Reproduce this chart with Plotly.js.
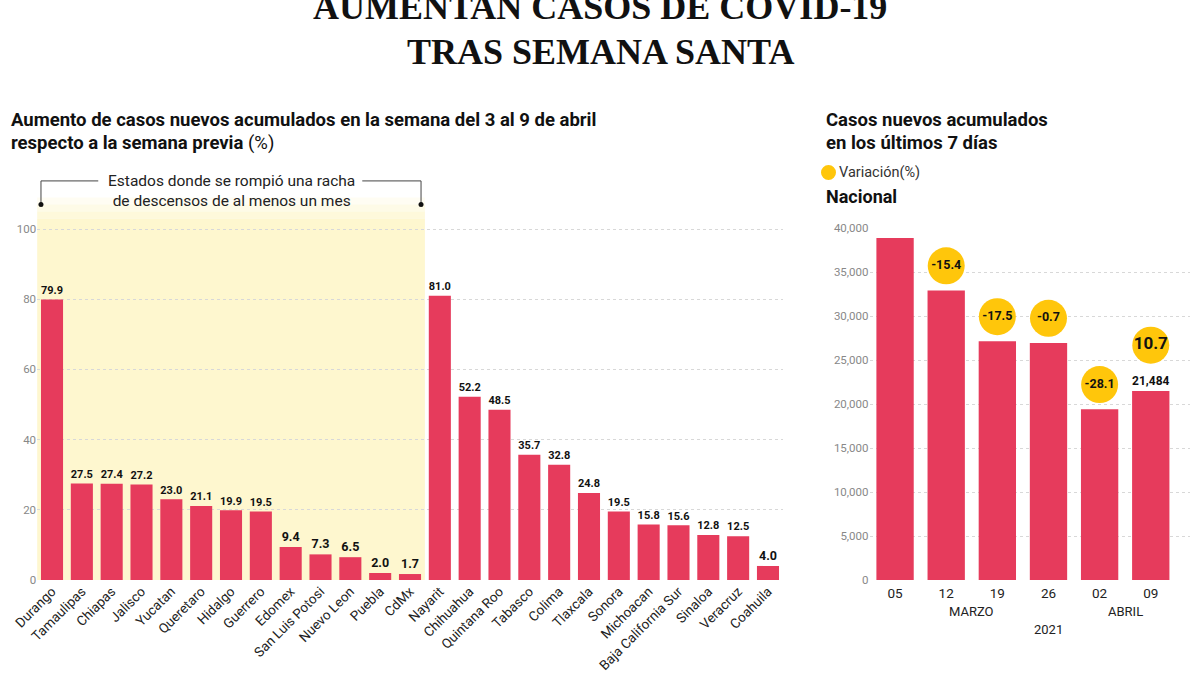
<!DOCTYPE html>
<html><head><meta charset="utf-8">
<script src="https://cdn.plot.ly/plotly-3.0.1.min.js"></script>
<style>html,body{margin:0;padding:0;background:#fff}#chart{width:1200px;height:675px}</style>
</head><body><div id="chart"></div>
<script>
// ---------- DATA ----------
const estados = ['Durango','Tamaulipas','Chiapas','Jalisco','Yucatan','Queretaro','Hidalgo','Guerrero','Edomex','San Luis Potosi','Nuevo Leon','Puebla','CdMx','Nayarit','Chihuahua','Quintana Roo','Tabasco','Colima','Tlaxcala','Sonora','Michoacan','Baja California Sur','Sinaloa','Veracruz','Coahuila'];
const aumento = [79.9,27.5,27.4,27.2,23.0,21.1,19.9,19.5,9.4,7.3,6.5,2.0,1.7,81.0,52.2,48.5,35.7,32.8,24.8,19.5,15.8,15.6,12.8,12.5,4.0];
const estadosRachaRota = ['Durango','Tamaulipas','Chiapas','Jalisco','Yucatan','Queretaro','Hidalgo','Guerrero','Edomex','San Luis Potosi','Nuevo Leon','Puebla','CdMx'];
const yTicksIzq = [0,20,40,60,80,100];

const semanas = ['05','12','19','26','02','09'];
const casosNacional = [38850,32900,27120,26940,19408,21484];
const variacion = [null,-15.4,-17.5,-0.7,-28.1,10.7];
const meses = ['MARZO','ABRIL'];
const mesesPos = [1.5,4.5];
const anio = '2021';
const yTicksDer = [0,5000,10000,15000,20000,25000,30000,35000,40000];

// ---------- STYLE ----------
const ROJO = '#E63B5C';
const AMARILLO = '#FFC60B';
const FONDO = '#FEF7CF';
const FONT = 'Roboto, "Open Sans", "DejaVu Sans", sans-serif';
const px2py = p => 1 - p/675;

const iFirst = estados.indexOf(estadosRachaRota[0]);
const iLast = estados.indexOf(estadosRachaRota[estadosRachaRota.length-1]);
const bx0 = iFirst - 0.37, bx1 = iLast + 0.37;
const bTop = 113.7, bBot = 107.0;

const traces = [
  {type:'bar', x:estados, y:aumento, xaxis:'x', yaxis:'y',
   marker:{color:ROJO}, texttemplate:'%{y:.1f}', textposition:'outside',
   textfont:{family:FONT, size:aumento.map(v=> v>75 ? 15 : 12.5), color:'#111', weight:'bold'},
   cliponaxis:false, hoverinfo:'skip'},
  {type:'bar', x:semanas, y:casosNacional, xaxis:'x2', yaxis:'y2', width:0.73,
   marker:{color:ROJO}, cliponaxis:false, hoverinfo:'skip',
   text:casosNacional.map((v,i)=> i===casosNacional.length-1 ? v.toLocaleString('en-US') : ''),
   textposition:'outside', textfont:{family:FONT, size:19, color:'#111', weight:'bold'}},
  (function(){
    const xs=[], ys=[], ts=[], fs=[];
    variacion.forEach((v,i)=>{
      if(v===null) return;
      const last = i===casosNacional.length-1;
      xs.push(semanas[i]);
      ys.push(casosNacional[i] + (last ? 5200 : 2800));
      ts.push(v.toFixed(1));
      fs.push(last ? 17 : 12.5);
    });
    return {type:'scatter', mode:'markers+text', x:xs, y:ys, xaxis:'x2', yaxis:'y2',
      marker:{size:37, color:AMARILLO}, text:ts, textposition:'middle center',
      textfont:{family:FONT, size:fs, color:'#111', weight:'bold'}, cliponaxis:false, hoverinfo:'skip'};
  })()
];

const shapes = [];
const fade = [[0,103,1],[103,105,0.75],[105,107,0.5],[107,109,0.25]];
fade.forEach(f=>shapes.push({type:'rect', xref:'x', yref:'y', x0:iFirst-0.5, x1:iLast+0.5, y0:f[0], y1:f[1],
  fillcolor:FONDO, opacity:f[2], line:{width:0}, layer:'below'}));
const lineB = {color:'#444', width:1};
shapes.push({type:'line', xref:'x', yref:'y', x0:bx0, x1:iFirst+1.55, y0:bTop, y1:bTop, line:lineB});
shapes.push({type:'line', xref:'x', yref:'y', x0:iLast-1.6, x1:bx1, y0:bTop, y1:bTop, line:lineB});
shapes.push({type:'line', xref:'x', yref:'y', x0:bx0, x1:bx0, y0:bTop, y1:bBot, line:lineB});
shapes.push({type:'line', xref:'x', yref:'y', x0:bx1, x1:bx1, y0:bTop, y1:bBot, line:lineB});
[bx0,bx1].forEach(xx=>shapes.push({type:'circle', xref:'x', yref:'y', xsizemode:'pixel', ysizemode:'pixel',
  xanchor:xx, yanchor:bBot, x0:-2.5, x1:2.5, y0:-2.5, y1:2.5, fillcolor:'#111', line:{width:0}}));
shapes.push({type:'circle', xref:'paper', yref:'paper', x0:821/1200, x1:836/1200, y0:px2py(180), y1:px2py(165),
  fillcolor:AMARILLO, line:{width:0}});

const ann = [];
const A = (o)=>ann.push(Object.assign({showarrow:false, xref:'paper', yref:'paper'}, o));
const TFONT = {family:'"Liberation Serif", "DejaVu Serif", serif', size:36, color:'#111'};
A({text:'<b>AUMENTAN CASOS DE COVID-19</b>', x:0.5, y:px2py(7), xanchor:'center', yanchor:'middle', font:TFONT});
A({text:'<b>TRAS SEMANA SANTA</b>', x:0.5, y:px2py(52), xanchor:'center', yanchor:'middle', font:TFONT});
A({text:'<b>Aumento de casos nuevos acumulados en la semana del 3 al 9 de abril</b>', x:9/1200, y:px2py(120),
   xanchor:'left', yanchor:'middle', font:{family:FONT, size:18.5, color:'#111'}});
A({text:'<b>respecto a la semana previa</b> (%)', x:9/1200, y:px2py(143),
   xanchor:'left', yanchor:'middle', font:{family:FONT, size:18.5, color:'#111'}});
A({text:'Estados donde se rompió una racha<br>de descensos de al menos un mes', xref:'x', yref:'y',
   x:(iFirst+iLast)/2, y:110.9, xanchor:'center', yanchor:'middle', align:'center',
   font:{family:FONT, size:15.5, color:'#222'}});
A({text:'<b>Casos nuevos acumulados</b>', x:824/1200, y:px2py(120), xanchor:'left', yanchor:'middle',
   font:{family:FONT, size:18.5, color:'#111'}});
A({text:'<b>en los últimos 7 días</b>', x:824/1200, y:px2py(143), xanchor:'left', yanchor:'middle',
   font:{family:FONT, size:18.5, color:'#111'}});
A({text:'Variación(%)', x:837/1200, y:px2py(172), xanchor:'left', yanchor:'middle',
   font:{family:FONT, size:14.5, color:'#333'}});
A({text:'<b>Nacional</b>', x:824/1200, y:px2py(196), xanchor:'left', yanchor:'middle',
   font:{family:FONT, size:18, color:'#111'}});
meses.forEach((m,i)=>A({text:m, xref:'x2', x:mesesPos[i], y:px2py(611), xanchor:'center', yanchor:'middle',
   font:{family:FONT, size:13, color:'#222'}}));
A({text:anio, xref:'x2', x:(mesesPos[0]+mesesPos[1])/2, y:px2py(629), xanchor:'center', yanchor:'middle',
   font:{family:FONT, size:13, color:'#222'}});

const layout = {
  width:1200, height:675, margin:{l:0,r:0,t:0,b:0}, paper_bgcolor:'#fff', plot_bgcolor:'rgba(0,0,0,0)',
  showlegend:false, hovermode:false, bargap:0.26,
  font:{family:FONT},
  xaxis:{domain:[37.1/1200, 782.9/1200], anchor:'y', type:'category', tickangle:-45, showgrid:false,
    tickfont:{family:FONT, size:13.5, color:'#222'}, ticks:'', showline:false, automargin:false},
  yaxis:{domain:[px2py(580), px2py(580-116*3.51)], anchor:'x', range:[0,116], tickvals:yTicksIzq,
    showgrid:true, gridcolor:'#d8d8d8', griddash:'dot', zeroline:false,
    tickfont:{family:FONT, size:11.5, color:'#888'}, ticks:'', automargin:false},
  xaxis2:{domain:[869.5/1200, 1189.9/1200], anchor:'y2', type:'category', showgrid:false, ticks:'',
    ticklabelstandoff:3, tickfont:{family:FONT, size:13.5, color:'#222'}, automargin:false},
  yaxis2:{domain:[px2py(580), px2py(580-40100*0.0088)], anchor:'x2', range:[0,40100], tickvals:yTicksDer,
    tickformat:',', showgrid:true, gridcolor:'#d8d8d8', griddash:'dot', zeroline:false,
    tickfont:{family:FONT, size:11.5, color:'#888'}, ticks:'', automargin:false},
  shapes:shapes, annotations:ann
};
Plotly.newPlot('chart', traces, layout, {displayModeBar:false, staticPlot:true});
</script>
</body></html>
